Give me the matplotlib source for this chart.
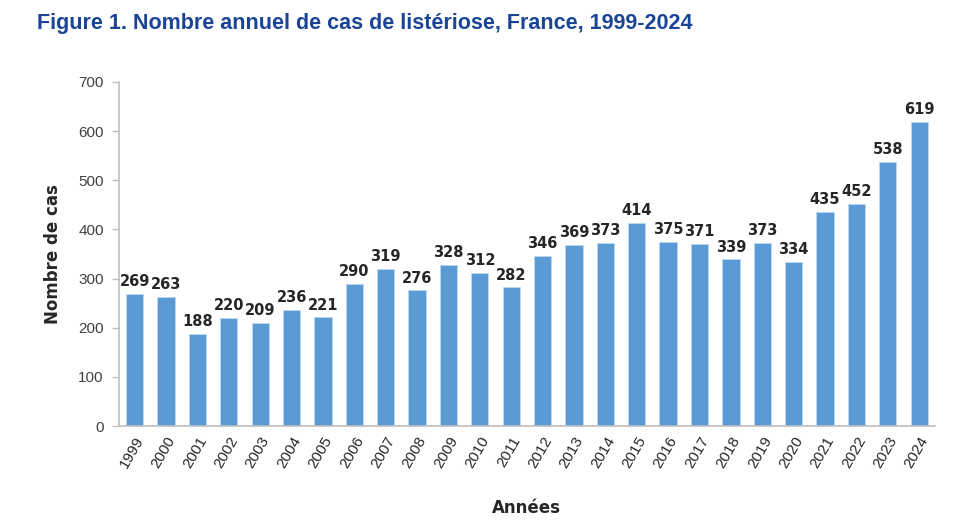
import matplotlib
matplotlib.use("Agg")
import matplotlib.pyplot as plt

years = [str(y) for y in range(1999, 2025)]
cases = [269, 263, 188, 220, 209, 236, 221, 290, 319, 276, 328, 312, 282, 346,
         369, 373, 414, 375, 371, 339, 373, 334, 435, 452, 538, 619]
yticks = [0, 100, 200, 300, 400, 500, 600, 700]

plt.rcParams['font.family'] = ['Liberation Sans', 'DejaVu Sans']

fig = plt.figure(figsize=(9.61, 5.32), dpi=100)
ax = fig.add_axes([0.1238, 0.199, 0.849, 0.647])

x = list(range(len(years)))
ax.bar(x, cases, width=0.55, color='#5B9BD5', edgecolor='#BDD7EE', linewidth=0.6, zorder=2)
for xi, v in zip(x, cases):
    ax.text(xi, v + 10, str(v), ha='center', va='bottom', fontsize=10.5,
            fontweight='bold', color='#262626', family=['DejaVu Sans'])

ax.set_xlim(-0.5, len(years) - 0.5)
ax.set_ylim(0, 700)
ax.set_yticks(yticks)
ax.set_yticklabels([str(t) for t in yticks], fontsize=11, color='#404040')
ax.set_xticks(x)
ax.set_xticklabels(years, rotation=60, ha='right', rotation_mode='anchor',
                   fontsize=11, color='#262626')
ax.tick_params(axis='x', length=0, pad=6)
ax.tick_params(axis='y', length=5, color='#BFBFBF', width=1, pad=6)

for s in ['top', 'right']:
    ax.spines[s].set_visible(False)
ax.spines['left'].set_color('#BFBFBF')
ax.spines['bottom'].set_color('#BFBFBF')
ax.spines['left'].set_linewidth(1.2)
ax.spines['bottom'].set_linewidth(1.2)

ax.set_ylabel('Nombre de cas', fontsize=12, fontweight='bold', color='#262626',
              family=['DejaVu Sans'], labelpad=12)
ax.set_xlabel('Années', fontsize=12, fontweight='bold', color='#262626',
              family=['DejaVu Sans'], labelpad=20)

fig.text(0.038, 0.955, 'Figure 1. Nombre annuel de cas de listériose, France, 1999-2024',
         fontsize=15.5, fontweight='bold', color='#1A4596', ha='left', va='center')

fig.savefig('out.png', dpi=100)
